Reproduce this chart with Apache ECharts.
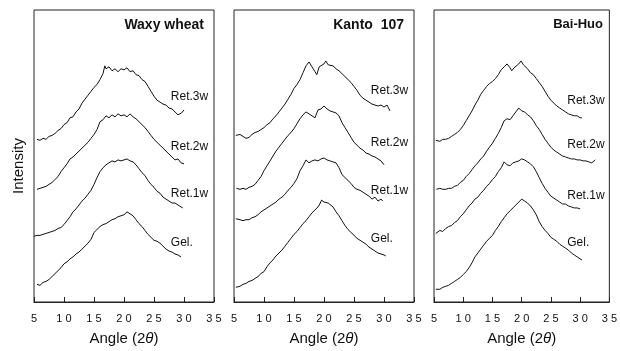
<!DOCTYPE html>
<html>
<head>
<meta charset="utf-8">
<script src="https://cdn.jsdelivr.net/npm/echarts@6/dist/echarts.min.js"></script>
<style>html,body{margin:0;padding:0;background:#fff}#c{width:620px;height:351px}</style>
</head>
<body>
<div id="c"></div>
<script>
// ---- data (x = angle 2θ, y = relative intensity, offset traces) ----
const panelTitles = ['Waxy wheat', 'Kanto  107', 'Bai-Huo'];
const traceNames = ['Ret.3w', 'Ret.2w', 'Ret.1w', 'Gel.'];
const xTicks = [5, 10, 15, 20, 25, 30, 35];

const waxyRet3w = [[5.5,166],[6,165],[6.5,167],[7,166],[7.5,169],[8,170],[8.5,172],[9,175],[9.5,177],[10,181],[10.5,183],[11,188],[11.5,189],[12,194],[12.5,197],[13,203],[13.5,207],[14,211],[14.5,215],[15,219],[15.5,222],[16,227],[16.5,233],[16.8,241],[17,238],[17.5,240],[18,236],[18.5,238],[19,235],[19.5,238],[20,237],[20.5,239],[21,235],[21.5,236],[22,232],[22.5,231],[23,227],[23.5,225],[24,220],[24.5,215],[25,210],[25.5,206],[26,204],[26.5,202],[27,201],[27.5,198],[28,197],[28.5,194],[29,191],[29.3,189],[29.6,193],[30,196]];
const waxyRet2w = [[5.5,115],[6,116],[6.5,117],[7,118],[7.5,120],[8,122],[8.5,125],[9,128],[9.5,133],[10,137],[10.5,141],[11,146],[11.5,148],[12,151],[12.5,154],[13,157],[13.5,160],[14,163],[14.5,167],[15,171],[15.5,176],[16,184],[16.5,186],[17,190],[17.5,188],[18,191],[18.5,189],[19,192],[19.5,190],[20,191],[20.5,189],[21,192],[21.5,189],[22,187],[22.5,184],[23,181],[23.5,178],[24,174],[24.5,170],[25,166],[25.5,163],[26,160],[26.5,157],[27,154],[27.5,151],[28,148],[28.5,145],[29,146],[29.5,142],[30,141]];
const waxyRet1w = [[5,67],[5.5,68],[6,68],[6.5,69],[7,70],[7.5,71],[8,72],[8.5,73],[9,75],[9.5,76],[10,79],[10.5,83],[11,87],[11.5,92],[12,95],[12.5,99],[13,103],[13.5,106],[14,110],[14.5,114],[15,120],[15.5,127],[16,133],[16.5,137],[17,140],[17.5,142],[18,144],[18.5,143],[19,145],[19.5,144],[20,145],[20.5,146],[21,144],[21.5,143],[22,140],[22.5,136],[23,132],[23.5,129],[24,124],[24.5,120],[25,117],[25.5,113],[26,111],[26.5,107],[27,105],[27.5,103],[28,101],[28.5,101],[29,99],[29.5,97],[29.8,96]];
const waxyGel = [[5.5,18],[6,17],[6.5,20],[7,21],[7.5,23],[8,26],[8.5,29],[9,32],[9.5,35],[10,39],[10.5,41],[11,44],[11.5,46],[12,49],[12.5,51],[13,54],[13.5,57],[14,60],[14.5,64],[15,71],[15.5,74],[16,77],[16.5,79],[17,80],[17.5,82],[18,84],[18.5,85],[19,87],[19.5,88],[20,89],[20.5,92],[21,90],[21.5,88],[22,84],[22.5,80],[23,77],[23.5,73],[24,69],[24.5,66],[25,63],[25.5,62],[26,60],[26.5,57],[27,54],[27.5,52],[28,51],[28.5,49],[29,48],[29.5,46]];

const kantoRet3w = [[5.3,170],[6,171],[6.5,169],[7,167],[7.5,168],[8,171],[8.5,173],[9,174],[9.5,176],[10,178],[10.5,181],[11,183],[11.5,187],[12,190],[12.5,194],[13,198],[13.5,202],[14,207],[14.5,212],[15,218],[15.5,222],[16,227],[16.5,234],[17,241],[17.5,245],[18,240],[18.5,235],[18.8,232],[19.2,240],[19.5,239],[20,243],[20.3,246],[20.7,242],[21,240],[21.5,241],[22,238],[22.5,236],[23,233],[23.5,230],[24,227],[24.5,224],[25,220],[25.5,216],[26,211],[26.5,208],[27,206],[27.5,204],[28,202],[28.5,201],[29,200],[29.5,201],[30,199],[30.5,201],[31,195]];
const kantoRet2w = [[5.4,116],[6,115],[6.5,116],[7,115],[7.5,117],[8,118],[8.5,120],[9,124],[9.5,128],[10,134],[10.5,139],[11,144],[11.5,149],[12,154],[12.5,158],[13,162],[13.5,166],[14,170],[14.5,173],[15,177],[15.5,182],[16,187],[16.5,191],[17,194],[17.5,192],[18,190],[18.5,188],[19,196],[19.5,197],[20,200],[20.5,197],[21,195],[21.5,194],[22,193],[22.5,190],[23,183],[23.5,178],[24,173],[24.5,168],[25,163],[25.5,160],[26,157],[26.5,155],[27,152],[27.5,151],[28,149],[28.5,148],[29,146],[29.5,144],[30,140]];
const kantoRet1w = [[5.3,85],[6,84],[6.5,83],[7,84],[7.5,84],[8,86],[8.5,87],[9,89],[9.5,92],[10,94],[10.5,96],[11,98],[11.5,100],[12,102],[12.5,105],[13,107],[13.5,110],[14,114],[14.5,117],[15,121],[15.5,126],[16,134],[16.5,139],[17,145],[17.5,142],[18,144],[18.5,145],[19,144],[19.5,146],[20,147],[20.5,145],[21,144],[21.5,143],[22,142],[22.5,137],[23,130],[23.5,127],[24,124],[24.5,121],[25,117],[25.5,115],[26,114],[26.5,112],[27,110],[27.5,108],[28,105],[28.5,107],[29,103],[29.5,105],[29.8,103]];
const kantoGel = [[5.3,15],[6,16],[6.5,18],[7,19],[7.5,21],[8,22],[8.5,24],[9,26],[9.5,29],[10,31],[10.5,36],[11,40],[11.5,43],[12,47],[12.5,50],[13,53],[13.5,57],[14,61],[14.5,65],[15,69],[15.5,72],[16,76],[16.5,80],[17,83],[17.5,87],[18,91],[18.5,94],[19,97],[19.3,100],[19.6,104],[20,102],[20.3,104],[20.7,101],[21,100],[21.5,97],[22,92],[22.5,88],[23,83],[23.5,78],[24,74],[24.5,71],[25,68],[25.5,65],[26,63],[26.5,61],[27,59],[27.5,56],[28,54],[28.5,52],[29,50],[29.5,49],[30,48],[30.3,47]];

const baiRet3w = [[5.3,165],[6,164],[6.5,166],[7,166],[7.5,167],[8,169],[8.5,171],[9,173],[9.5,176],[10,180],[10.5,185],[11,190],[11.5,195],[12,201],[12.5,206],[13,212],[13.5,216],[14,220],[14.5,223],[15,225],[15.5,228],[16,232],[16.5,237],[17,240],[17.5,243],[18,239],[18.3,236],[18.7,239],[19,238],[19.5,243],[19.9,246],[20.3,242],[20.6,241],[21,238],[21.5,234],[22,232],[22.5,228],[23,224],[23.5,220],[24,215],[24.5,210],[25,206],[25.5,203],[26,200],[26.5,198],[27,196],[27.5,194],[28,192],[28.5,191],[29,190],[29.5,190],[30,188],[30.3,188]];
const baiRet2w = [[5.4,115],[6,116],[6.5,115],[7,115],[7.5,116],[8,116],[8.5,118],[9,119],[9.5,122],[10,124],[10.5,128],[11,131],[11.5,135],[12,139],[12.5,142],[13,146],[13.5,149],[14,154],[14.5,158],[15,162],[15.5,167],[16,172],[16.5,178],[17,185],[17.5,187],[18,186],[18.5,190],[19,194],[19.5,198],[20,195],[20.5,194],[21,191],[21.5,189],[22,185],[22.5,180],[23,176],[23.5,171],[24,166],[24.5,162],[25,158],[25.5,155],[26,153],[26.5,151],[27,149],[27.5,148],[28,147],[28.5,146],[29,146],[29.5,145],[30,145],[30.5,144],[31,144],[31.5,143],[32,142],[32.6,145]];
const baiRet1w = [[5.3,70],[6,73],[6.5,72],[7,75],[7.5,77],[8,78],[8.5,81],[9,83],[9.5,87],[10,90],[10.5,94],[11,98],[11.5,101],[12,105],[12.5,107],[13,111],[13.5,114],[14,118],[14.5,121],[15,125],[15.5,128],[16,133],[16.5,137],[17,143],[17.5,140],[18,139],[18.5,142],[19,143],[19.5,144],[20,146],[20.5,145],[21,143],[21.5,141],[22,138],[22.5,133],[23,127],[23.5,121],[24,116],[24.5,112],[25,108],[25.5,106],[26,104],[26.5,102],[27,100],[27.5,100],[28,98],[28.5,97],[29,96],[29.5,96],[30,95]];
const baiGel = [[5.3,13],[6,13],[6.5,15],[7,16],[7.5,17],[8,19],[8.5,21],[9,23],[9.5,25],[10,28],[10.5,31],[11,35],[11.5,40],[12,46],[12.5,50],[13,54],[13.5,58],[14,62],[14.5,65],[15,68],[15.5,73],[16,77],[16.5,82],[17,86],[17.5,90],[18,93],[18.5,96],[19,99],[19.5,102],[20,105],[20.5,103],[21,101],[21.5,98],[22,94],[22.5,89],[23,82],[23.5,77],[24,73],[24.5,70],[25,66],[25.5,64],[26,62],[26.5,59],[27,57],[27.5,55],[28,53],[28.5,50],[29,48],[29.5,46],[30,44],[30.3,43]];

const panels = [
  [waxyRet3w, waxyRet2w, waxyRet1w, waxyGel],
  [kantoRet3w, kantoRet2w, kantoRet1w, kantoGel],
  [baiRet3w, baiRet2w, baiRet1w, baiGel]
];
// label anchor heights (data units) for each trace label
const labelHeights = [
  [210, 159, 111, 61],
  [216, 163, 114, 65],
  [205, 161, 108, 61]
];

// ---- chart ----
const FONT = '"Liberation Sans", Arial, sans-serif';
const chart = echarts.init(document.getElementById('c'), null, {renderer: 'canvas'});
const lefts = [34, 234, 434];
const widths = [180, 180, 179];
const grids = [], xAxes = [], yAxes = [], series = [];
panels.forEach((traces, p) => {
  grids.push({left: lefts[p], top: 10, width: widths[p], height: 298, show: true,
    borderColor: '#222', borderWidth: 1, backgroundColor: 'transparent'});
  xAxes.push({gridIndex: p, type: 'value', min: 5, max: 35, interval: 5,
    name: 'Angle (2{i|θ})', nameLocation: 'middle', nameGap: 29,
    nameTextStyle: {fontFamily: FONT, fontSize: 15, color: '#111',
      rich: {i: {fontFamily: FONT, fontSize: 15, fontStyle: 'italic', color: '#111'}}},
    axisLine: {show: true, lineStyle: {color: '#222', width: 1}},
    axisTick: {show: true, inside: true, length: 5, lineStyle: {color: '#222'}},
    axisLabel: {show: true, margin: 11, fontFamily: FONT, fontSize: 11, color: '#111',
      formatter: v => String(v).split('').join(' ')},
    splitLine: {show: false}});
  yAxes.push({gridIndex: p, type: 'value', min: 0, max: 298,
    name: p === 0 ? 'Intensity' : '', nameLocation: 'middle', nameGap: 8, nameRotate: 90,
    nameTextStyle: {fontFamily: FONT, fontSize: 15, color: '#111', padding: [0, 20, 0, 0]},
    axisLine: {show: false}, axisTick: {show: false}, axisLabel: {show: false},
    splitLine: {show: false}});
  traces.forEach((d, t) => {
    series.push({type: 'line', xAxisIndex: p, yAxisIndex: p, data: d,
      showSymbol: false, symbol: 'none', smooth: false, silent: true,
      lineStyle: {color: '#111', width: 1}, animation: false,
      markPoint: {symbol: 'circle', symbolSize: 0, silent: true, animation: false,
        data: [{coord: [27.8, labelHeights[p][t]], value: traceNames[t]}],
        label: {show: true, position: 'right', distance: 0, formatter: traceNames[t],
          fontFamily: FONT, fontSize: 12, color: '#111'}}
    });
  });
});
chart.setOption({
  animation: false,
  backgroundColor: '#fff',
  grid: grids, xAxis: xAxes, yAxis: yAxes, series: series,
  graphic: panelTitles.map((t, p) => ({
    type: 'text', right: 620 - (lefts[p] + widths[p]) + 10, top: 18,
    style: {text: t, fontFamily: FONT, fontSize: p === 2 ? 13 : 14,
      fontWeight: 'bold', fill: '#111'}
  }))
});
</script>
</body>
</html>
